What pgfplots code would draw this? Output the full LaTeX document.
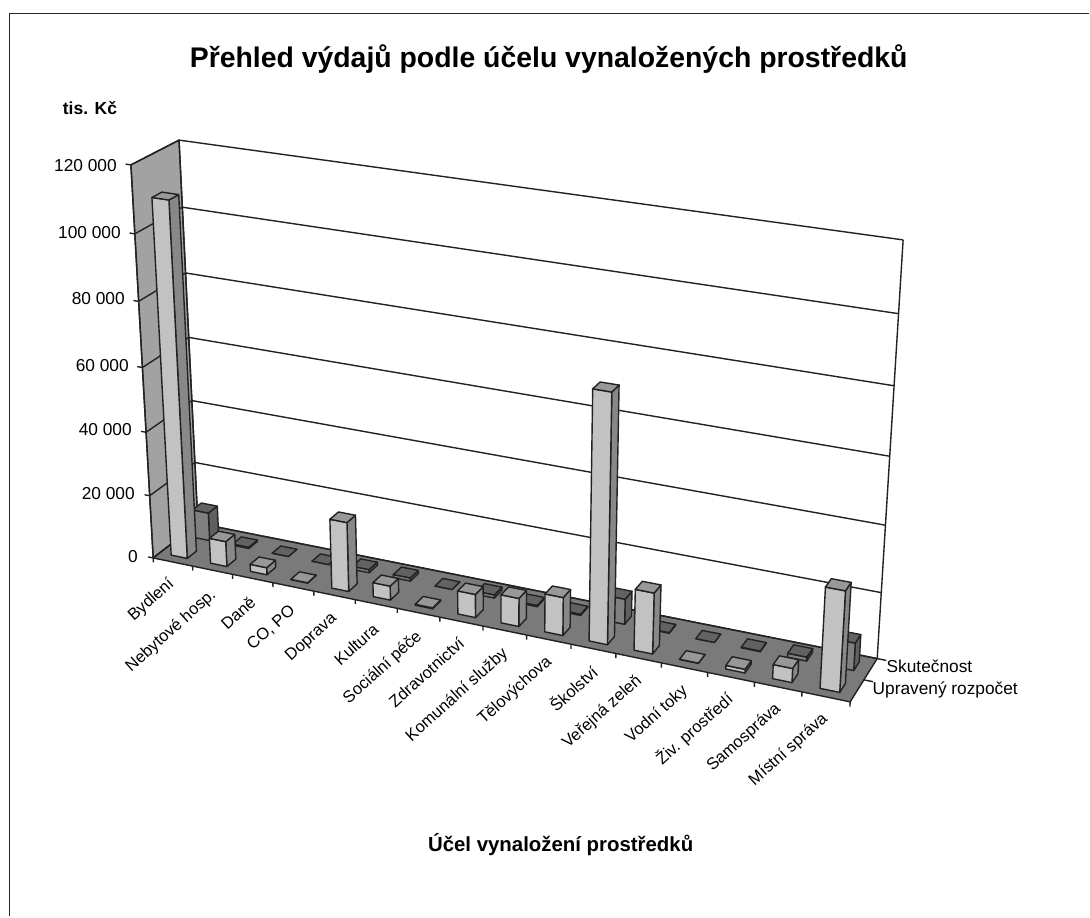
\documentclass[border=0pt]{standalone}
\usepackage{pgfplots}
\pgfplotsset{compat=1.18}
\usepackage{fontspec}
\setmainfont{Liberation Sans}
\definecolor{lc}{HTML}{222222}
\definecolor{wallc}{HTML}{A2A2A2}
\definecolor{floorc}{HTML}{7A7A7A}
\definecolor{aF}{HTML}{C2C2C2}
\definecolor{aS}{HTML}{888888}
\definecolor{aT}{HTML}{989898}
\definecolor{bF}{HTML}{808080}
\definecolor{bS}{HTML}{606060}
\definecolor{bT}{HTML}{626262}
\tikzset{ln/.style={draw=lc,line width=1.4pt,line join=round}}
% projection of chart space (u along categories, v depth, h height) to the sheet
\newcommand\Pt[5]{%
  \pgfmathsetmacro\den{1-0.102*(#1)+0.03*(#2)-0.06*(#3)}%
  \pgfmathsetmacro#4{(153.3+610.63*(#1)+50.64*(#2)-30.16*(#3))/\den}%
  \pgfmathsetmacro#5{(558.3+72.37*(#1)-19.10*(#2)-403.2*(#3))/\den}}
% one 3-D bar: category index, series (0 front, 1 back), value in millions Kč, colour prefix
\newcommand\tbar[4]{%
  \pgfmathsetmacro\uA{(#1+0.29)/16}%
  \pgfmathsetmacro\uB{(#1+0.70)/16}%
  \pgfmathsetmacro\vA{#2*0.505+0.145}%
  \pgfmathsetmacro\vB{#2*0.505+0.35}%
  \pgfmathsetmacro\hh{#3/120}%
  \Pt{\uA}{\vA}{0}{\ax}{\ay}\Pt{\uB}{\vA}{0}{\bx}{\by}\Pt{\uB}{\vB}{0}{\cx}{\cy}%
  \Pt{\uA}{\vA}{\hh}{\dx}{\dy}\Pt{\uB}{\vA}{\hh}{\ex}{\ey}\Pt{\uB}{\vB}{\hh}{\fx}{\fy}\Pt{\uA}{\vB}{\hh}{\gx}{\gy}%
  \addplot[ln,fill=#4S] coordinates {(\bx,\by)(\cx,\cy)(\fx,\fy)(\ex,\ey)} --cycle;
  \addplot[ln,fill=#4F] coordinates {(\ax,\ay)(\bx,\by)(\ex,\ey)(\dx,\dy)} --cycle;
  \addplot[ln,fill=#4T] coordinates {(\dx,\dy)(\ex,\ey)(\fx,\fy)(\gx,\gy)} --cycle;
}
\newcommand\seg[6]{%
  \Pt{#1}{#2}{#3}{\ax}{\ay}\Pt{#4}{#5}{#6}{\bx}{\by}%
  \addplot[ln] coordinates {(\ax,\ay)(\bx,\by)};
}
\begin{document}
\begin{tikzpicture}
\begin{axis}[
  scale only axis,width=1090pt,height=917pt,
  xmin=0,xmax=1090,ymin=0,ymax=917,y dir=reverse,
  axis lines=none,clip=false,no markers,
  every axis plot/.append style={forget plot}]
\addplot[draw=none,fill=white] coordinates {(0,0)(1090,0)(1090,917)(0,917)} --cycle;
% frame (cropped at the right and at the bottom)
\addplot[draw=black!85,line width=1.3pt] coordinates {(9.3,917)(9.3,13.3)(1090,13.3)};
% left wall, floor
\Pt{0}{0}{0}{\ax}{\ay}\Pt{0}{1}{0}{\bx}{\by}\Pt{0}{1}{1}{\cx}{\cy}\Pt{0}{0}{1}{\dx}{\dy}\Pt{1}{1}{0}{\ex}{\ey}\Pt{1}{0}{0}{\fx}{\fy}
\addplot[ln,fill=wallc] coordinates {(\ax,\ay)(\bx,\by)(\cx,\cy)(\dx,\dy)} --cycle;
\addplot[draw=none,fill=floorc] coordinates {(\ax,\ay)(\bx,\by)(\ex,\ey)(\fx,\fy)} --cycle;
% walls: grid lines
\seg{0}{0}{0}{1}{0}{0}
\seg{0}{0}{0}{0}{1}{0}
\seg{0}{1}{0}{1}{1}{0}
\seg{1}{0}{0}{1}{1}{0}
\seg{1}{1}{0}{1}{1}{1}
\seg{0}{1}{0}{0}{1}{1}
\seg{0}{0}{0}{0}{0}{1}
\pgfplotsinvokeforeach{0,0.16667,0.33333,0.5,0.66667,0.83333,1}{%
  \seg{0}{0}{#1}{0}{1}{#1}
  \seg{0}{1}{#1}{1}{1}{#1}
  \seg{-0.008}{0}{#1}{0}{0}{#1}
}
% category ticks
\pgfplotsinvokeforeach{0,...,16}{%
  \pgfmathsetmacro\tu{#1/16}%
  \seg{\tu}{0}{0}{\tu}{0}{-0.012}
}
\seg{1}{0.5}{0}{1.012}{0.5}{0}
\seg{1}{1}{0}{1.012}{1}{0}
% Skutečnost (back row)
\tbar{0}{1}{9.0}{b}
\tbar{1}{1}{0.4}{b}
\tbar{2}{1}{0}{b}
\tbar{3}{1}{0}{b}
\tbar{4}{1}{1.0}{b}
\tbar{5}{1}{1.0}{b}
\tbar{6}{1}{0}{b}
\tbar{7}{1}{1.0}{b}
\tbar{8}{1}{0.4}{b}
\tbar{9}{1}{0.4}{b}
\tbar{10}{1}{7.8}{b}
\tbar{11}{1}{0.2}{b}
\tbar{12}{1}{0}{b}
\tbar{13}{1}{0.2}{b}
\tbar{14}{1}{1.2}{b}
\tbar{15}{1}{8.3}{b}
% Upravený rozpočet (front row)
\tbar{0}{0}{110.0}{a}
\tbar{1}{0}{8.0}{a}
\tbar{2}{0}{2.25}{a}
\tbar{3}{0}{0.1}{a}
\tbar{4}{0}{21.7}{a}
\tbar{5}{0}{4.4}{a}
\tbar{6}{0}{0.3}{a}
\tbar{7}{0}{7.2}{a}
\tbar{8}{0}{8.7}{a}
\tbar{9}{0}{11.7}{a}
\tbar{10}{0}{74.8}{a}
\tbar{11}{0}{18.5}{a}
\tbar{12}{0}{0.1}{a}
\tbar{13}{0}{1.1}{a}
\tbar{14}{0}{4.25}{a}
\tbar{15}{0}{30.0}{a}
% text
\node[font=\bfseries\fontsize{28.4}{32}\selectfont] at (axis cs:549,59) {Přehled výdajů podle účelu vynaložených prostředků};
\node[font=\bfseries\fontsize{17.5}{20}\selectfont] at (axis cs:90,108) {tis. Kč};
\node[font=\bfseries\fontsize{20.4}{24}\selectfont] at (axis cs:561,845) {Účel vynaložení prostředků};
\foreach \tx/\ty/\tt in {117/166/120 000,121/233/100 000,125/299/80 000,129/366/60 000,132/430/40 000,135/494/20 000,138/557/0}{
  \edef\tmp{\noexpand\node[anchor=east,inner sep=0pt,font=\noexpand\fontsize{17.3}{20}\noexpand\selectfont] at (axis cs:\tx,\ty) {\tt};}\tmp
}
\foreach \tx/\ty/\tt in {172/582/Bydlení,214/593/Nebytové hosp.,253/600/Daně,293/609/{CO, PO},335/617/Doprava,376/627/Kultura,420/635/Sociální péče,462/641/Zdravotnictví,506/652/Komunální služby,550/660/Tělovýchova,595/669/Školství,640/679/Veřejná zeleň,686/689/Vodní toky,731/697/Živ. prostředí,779/707/Samospráva,826/717/Místní správa}{
  \edef\tmp{\noexpand\node[anchor=east,rotate=42,inner sep=0pt,font=\noexpand\fontsize{16.5}{20}\noexpand\selectfont] at (axis cs:\tx,\ty) {\tt};}\tmp
}
\node[anchor=west,inner sep=0pt,font=\fontsize{17.3}{20}\selectfont] at (axis cs:887,667) {Skutečnost};
\node[anchor=west,inner sep=0pt,font=\fontsize{17.3}{20}\selectfont] at (axis cs:873,690) {Upravený rozpočet};
\end{axis}
\end{tikzpicture}
\end{document}
